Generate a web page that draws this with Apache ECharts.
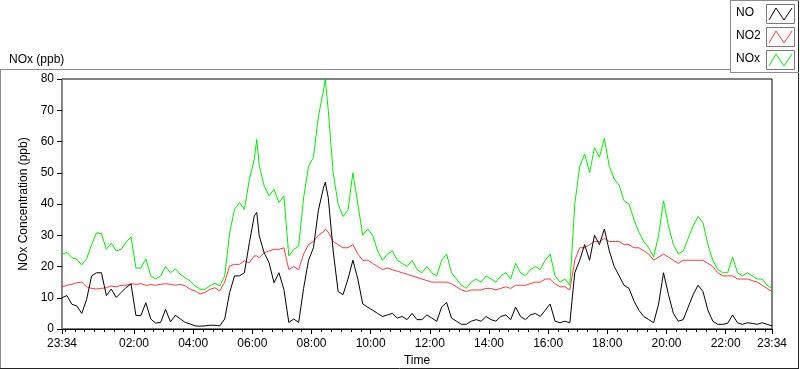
<!DOCTYPE html>
<html><head><meta charset="utf-8">
<script src="https://cdn.jsdelivr.net/npm/echarts@6/dist/echarts.min.js"></script>
<style>html,body{margin:0;padding:0;background:#fff}#c{width:800px;height:369px}</style>
</head><body><div id="c"></div>
<script>
// minutes after 23:34 (start of record)
const times = [0,10,20,30,40,50,60,70,80,90,100,110,120,130,140,150,160,170,180,190,200,210,220,230,240,250,260,270,280,290,300,310,320,330,340,350,360,370,380,390,395,400,410,420,430,440,450,460,470,480,490,500,510,520,530,534,540,550,560,570,580,590,600,610,620,630,640,650,660,670,680,690,700,710,720,730,740,750,760,770,780,790,800,810,820,830,840,850,860,870,880,890,900,910,920,930,940,950,960,970,980,990,1000,1010,1020,1030,1040,1050,1060,1070,1080,1090,1100,1110,1120,1130,1140,1150,1160,1170,1180,1190,1200,1210,1220,1230,1240,1250,1260,1270,1280,1290,1300,1310,1320,1330,1340,1350,1360,1370,1380,1390,1400,1410,1420,1430,1440];
const noValues = [10,10.7,7.9,7.4,5,9.5,17,18,18,10.7, 12.8,10.1,11.7,13.3,14.4,4.3,4.3,8.4,3.2,1.9, 2.1,6.3,2.3,4.4,3.2,2.1,1.6,1,0.9,1, 1.2,1.2,1,3.2,11.7,17,17,18,27.6,36.2, 37.3, 29.8,24.4,21.2,14.8,18,12.7,2.1,3.2,2.1,13, 22,26,38,45, 47, 42,25,12,11,16,22, 16,8,7,6,5,4,4.5,5,3.5,4, 3,5,3,3,4.5,3.5,2.5,7,8.5,3.5, 2.5,1.5,1.5,2.5,3,2.5,4,3,2.5,4, 4.5,3,7,4,3,4.5,5,4,6,8, 2.5,2,2.5,2,18,22,27,22,30,27, 32,25,20,17,14,13,9,6,4,3, 2,8,18,11,5,2.5,3,7,11,14, 12,6,2.5,1.5,1.5,1.8,4.5,2,1.5,2, 1.8,1.5,2,1.5,1];
const no2Values = [13.5,14,14.3,14.8,15,13.5,13,12.8,13,13.2, 13.8,13.5,14,14,14.5,14.3,14.5,14,14.2,14, 14.3,14.5,14.3,14,14.3,13.8,12.7,12.2,11.2,11.7, 12.7,13.2,12.2,15,20.2,20.7,20.7,21.8,21.2,23.4, 23.4, 22.8,24.4,25,25.5,25.5,26,19,20,19,24, 27,28,30,31, 32, 31,28,27,26,26,27, 24,22,22,21,20,19,19.5,19,18.5,18, 17.5,17,16.5,16,15.5,15,15,15,15,14.5, 13.5,12.5,12,12.5,12.5,12.5,13,13,12.5,13, 13.5,13,14,14,14,14.5,15,15,16,16, 14.5,13.5,13.5,12.5,22,26,26,27,28,28, 29,28,28,28,27,27,26,26,25,24, 22,23,24,23,22,21,22,22,22,22, 22,21,20,18,17,17,17,16,16,16, 15.5,15,14,13,12];
const noxValues = [24,24.5,22.8,22.3,20.5,22.5,27,30.8,30.5,25.5, 27.5,25,25.5,27.8,29.5,19.5,19.5,22.5,17,16, 17,20,18,19.3,17.5,16.4,15.4,13.8,12.7,12.7, 13.8,14.6,13.8,17,30.8,38.3,40.5,38.3,47.9,54.3, 60.7, 52.4,45.8,42.6,44.7,40.5,42.6,23.4,25.5,26.5,42, 52,55,68,76, 80, 70,50,40,36,38,50, 40,30,32,30,25,22,24,25,22,21, 20,22,19,18,20,18,17,22,24,18, 16,14,13,15,16,15,17,16,15,17, 18,16,21,18,17,19,20,19,22,24, 17,15,16,14,40,52,56,50,58,55, 61,52,48,46,41,40,35,31,28,26, 23,30,41,33,27,24,25,29,33,36, 34,27,22,19,18,18,23,18,17,18, 17,16,16,14,13];
const seriesNames = ['NO','NO2','NOx'];
const majorTicks = [0,146,266,386,506,626,746,866,986,1106,1226,1346,1440];
const minorTicks = [];
for (let t = 6; t < 1440; t += 20) minorTicks.push(t);

const FONT = 'Liberation Sans';
function clock(v){ const m = (1414 + Math.round(v)) % 1440; const h = Math.floor(m/60), mm = m%60; return (h<10?'0':'')+h+':'+(mm<10?'0':'')+mm; }
const pair = arr => times.map((t,i)=>[t, arr[i]]);

const chart = echarts.init(document.getElementById('c'), null, {renderer:'canvas'});
const legendRows = [
  {name:'NO', color:'#000000', y:4},
  {name:'NO2', color:'#ff3b3b', y:27},
  {name:'NOx', color:'#00ee00', y:50}
];
const graphics = [
  {type:'line', shape:{x1:0.5,y1:69,x2:0.5,y2:368}, style:{stroke:'#8c8c8c',lineWidth:1}},
  {type:'line', shape:{x1:0,y1:69.5,x2:730,y2:69.5}, style:{stroke:'#8c8c8c',lineWidth:1}},
  {type:'line', shape:{x1:0,y1:368.5,x2:799,y2:368.5}, style:{stroke:'#222',lineWidth:1}},
  {type:'line', shape:{x1:798.5,y1:0,x2:798.5,y2:369}, style:{stroke:'#222',lineWidth:1}},
  {type:'line', shape:{x1:730.5,y1:0,x2:730.5,y2:73}, style:{stroke:'#8c8c8c',lineWidth:1}},
  {type:'line', shape:{x1:730,y1:72.5,x2:799,y2:72.5}, style:{stroke:'#8c8c8c',lineWidth:1}},
  {type:'line', shape:{x1:730,y1:0.5,x2:799,y2:0.5}, style:{stroke:'#8c8c8c',lineWidth:1}}
];
legendRows.forEach(r=>{
  graphics.push({type:'text', left:736, top:r.y+3, style:{text:r.name, font:'12px '+FONT, fill:'#000'}});
  graphics.push({type:'rect', shape:{x:766.5,y:r.y+0.5,width:28,height:19}, style:{fill:'#fff',stroke:'#7a7a7a',lineWidth:1}});
  graphics.push({type:'polyline', shape:{points:[[769,r.y+16],[776,r.y+4],[784,r.y+16],[792,r.y+4]]}, style:{stroke:r.color,lineWidth:1,fill:null}});
});

chart.setOption({
  animation:false,
  backgroundColor:'#fff',
  title:{text:'NOx (ppb)', left:4, top:49, textStyle:{fontFamily:FONT,fontSize:12,fontWeight:'normal',color:'#000'}},
  grid:{left:62, top:79, right:28, bottom:40, outerBoundsMode:'none', containLabel:false, show:true, borderColor:'#000', borderWidth:1, backgroundColor:'transparent'},
  xAxis:[{
    type:'value', min:0, max:1440, position:'bottom',
    name:'Time', nameLocation:'middle', nameGap:24,
    nameTextStyle:{fontFamily:FONT,fontSize:12,color:'#000'},
    axisLine:{show:true,lineStyle:{color:'#000',width:1}},
    axisTick:{show:true,customValues:majorTicks,length:5,lineStyle:{color:'#000'}},
    axisLabel:{customValues:majorTicks, formatter:clock, margin:9, fontFamily:FONT, fontSize:12, color:'#000', hideOverlap:false},
    splitLine:{show:false}
  },{
    type:'value', min:0, max:1440, position:'bottom',
    axisLine:{show:false},
    axisTick:{show:true,customValues:minorTicks,length:3,lineStyle:{color:'#000'}},
    axisLabel:{show:false}, splitLine:{show:false}
  }],
  yAxis:[{
    type:'value', min:0, max:80, interval:10,
    name:'NOx Concentration (ppb)', nameLocation:'middle', nameGap:24, nameRotate:90,
    nameTextStyle:{fontFamily:FONT,fontSize:12,color:'#000'},
    axisLine:{show:true,lineStyle:{color:'#000'}},
    axisTick:{show:true,length:5,lineStyle:{color:'#000'}},
    axisLabel:{margin:8,fontFamily:FONT,fontSize:12,color:'#000'},
    splitLine:{show:false}
  },{
    type:'value', min:0, max:80, position:'right',
    axisLine:{show:true,lineStyle:{color:'#8c8c8c'}},
    axisTick:{show:false}, axisLabel:{show:false}, splitLine:{show:false}
  }],
  series:[
    {name:seriesNames[1], type:'line', data:pair(no2Values), showSymbol:false, symbol:'none', lineStyle:{color:'#ff3b3b',width:1}, z:2},
    {name:seriesNames[2], type:'line', data:pair(noxValues), showSymbol:false, symbol:'none', lineStyle:{color:'#00ee00',width:1}, z:3},
    {name:seriesNames[0], type:'line', data:pair(noValues), showSymbol:false, symbol:'none', lineStyle:{color:'#000000',width:1}, z:4}
  ],
  graphic:graphics
});
</script></body></html>
